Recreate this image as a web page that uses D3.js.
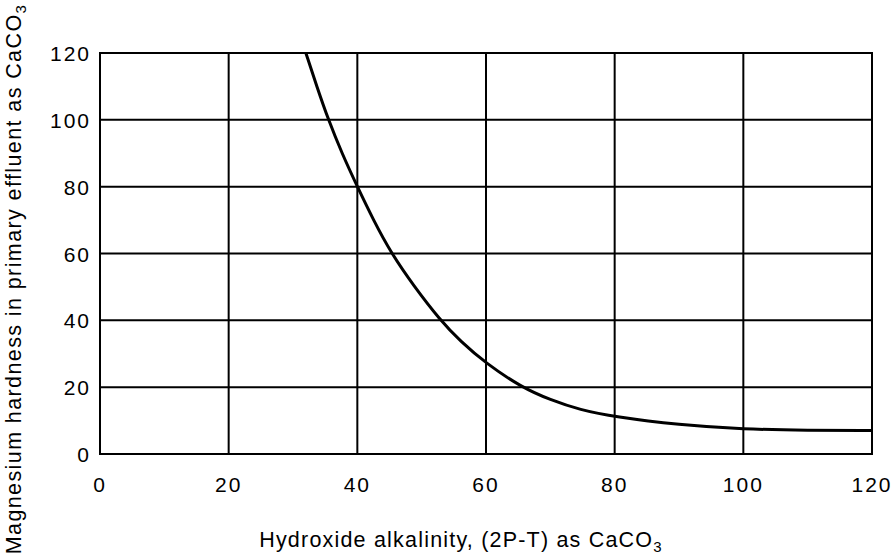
<!DOCTYPE html>
<html><head><meta charset="utf-8">
<script src="https://cdn.jsdelivr.net/npm/d3@7"></script>
<style>
body{margin:0;background:#fff;}
text{font-family:"Liberation Sans",Arial,sans-serif;fill:#000;}
</style></head>
<body>
<svg id="chart" width="893" height="559"></svg>
<script>
const xTicks = [0, 20, 40, 60, 80, 100, 120];
const yTicks = [0, 20, 40, 60, 80, 100, 120];
const alkalinity = [32, 33.7, 35.5, 37.6, 40, 42.5, 45.3, 48.7, 52.9, 56, 60, 65.5, 70, 74.6, 80, 90, 100, 110, 120];
const hardness  = [120, 110, 100, 90, 80, 70, 60, 50.5, 40, 33.8, 27.1, 20, 16.2, 13.2, 11.1, 8.7, 7.4, 7.1, 7.0];
const xLabel = "Hydroxide alkalinity, (2P-T) as CaCO";
const yLabel = "Magnesium hardness in primary effluent as CaCO";
const sub = "3";

const svg = d3.select("#chart");
const x = d3.scaleLinear().domain([0,120]).range([100,872]);
const y = d3.scaleLinear().domain([0,120]).range([454,53]);

svg.append("g").selectAll("line").data(xTicks).join("line")
  .attr("x1",d=>x(d)).attr("x2",d=>x(d)).attr("y1",y(0)+1).attr("y2",y(120)-1)
  .attr("stroke","#000").attr("stroke-width",2);
svg.append("g").selectAll("line").data(yTicks).join("line")
  .attr("x1",x(0)-1).attr("x2",x(120)+1).attr("y1",d=>y(d)).attr("y2",d=>y(d))
  .attr("stroke","#000").attr("stroke-width",2);

svg.append("g").selectAll("text").data(xTicks).join("text")
  .attr("x",d=>x(d)).attr("y",492).attr("text-anchor","middle")
  .style("font-size","21px").style("letter-spacing","2px").text(d=>d);
svg.append("g").selectAll("text").data(yTicks).join("text")
  .attr("x",91).attr("y",d=>y(d)+8).attr("text-anchor","end")
  .style("font-size","21px").style("letter-spacing","2px").text(d=>d);

const pts = alkalinity.map((a,i)=>[a,hardness[i]]);
svg.append("path").datum(pts)
  .attr("d", d3.line().x(d=>x(d[0])).y(d=>y(d[1])).curve(d3.curveBasis))
  .attr("fill","none").attr("stroke","#000").attr("stroke-width",3);

const xl = svg.append("text").attr("x",461).attr("y",547).attr("text-anchor","middle")
  .style("font-size","21.5px").style("letter-spacing","1.2px");
xl.append("tspan").text(xLabel);
xl.append("tspan").attr("dy",5).style("font-size","15px").text(sub);

const yl = svg.append("text").attr("transform","translate(21,279) rotate(-90)")
  .attr("text-anchor","middle").style("font-size","21.5px").style("letter-spacing","1.4px");
yl.append("tspan").text(yLabel);
yl.append("tspan").attr("dy",5).style("font-size","15px").text(sub);
</script>
</body></html>
